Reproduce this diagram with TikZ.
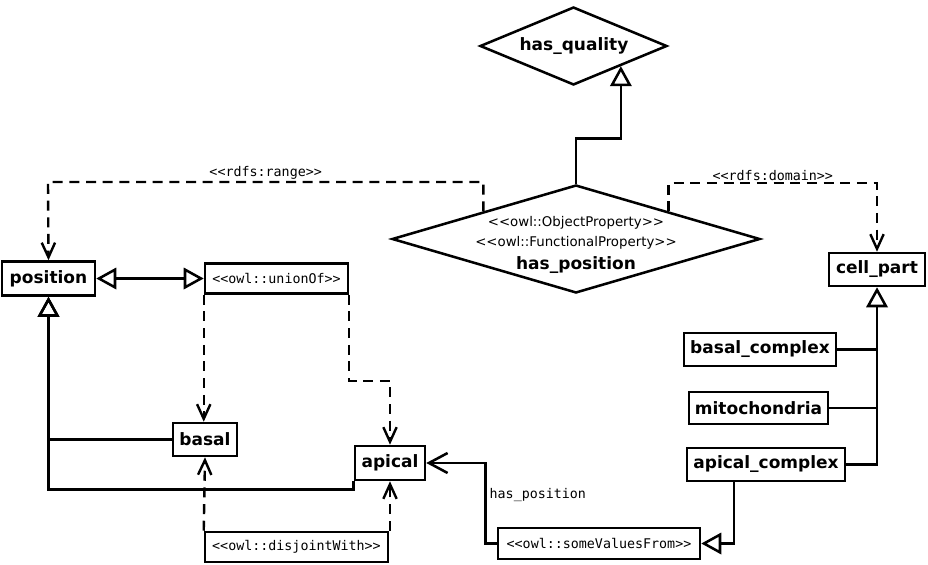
\documentclass[tikz,border=0pt]{standalone}
\usepackage{fontspec}
\setmainfont{DejaVu Sans}[Ligatures=TeXOff]
\setmonofont{DejaVu Sans Mono}
\usetikzlibrary{arrows.meta,shapes.geometric,calc}
\begin{document}
\begin{tikzpicture}[x=0.75pt,y=-0.75pt,
  cls/.style={draw, line width=1.9pt, font=\fontsize{12.75}{15}\selectfont\bfseries, inner sep=0pt},
  stereo/.style={draw, line width=1.9pt, font=\fontsize{10}{12}\selectfont\ttfamily, inner sep=0pt},
  prop/.style={draw, diamond, line width=1.9pt, inner sep=0pt},
  proptxt/.style={font=\fontsize{10}{12}\selectfont, inner sep=0pt},
  propname/.style={font=\fontsize{12.75}{15}\selectfont\bfseries, inner sep=0pt},
  lbl/.style={font=\fontsize{10}{12}\selectfont\ttfamily, inner sep=0pt},
  gen/.style={line width=1.9pt, -{Triangle[open, length=15pt, width=16pt]}},
  gengen/.style={line width=1.9pt, {Triangle[open, length=15pt, width=16pt]}-{Triangle[open, length=15pt, width=16pt]}},
  dep/.style={line width=1.8pt, dash pattern=on 7.5pt off 5pt, -{Straight Barb[length=11pt, width=10pt]}},
  assoc/.style={line width=1.9pt, -{Straight Barb[length=14pt, width=15pt]}}
]
\useasboundingbox (0,0) rectangle (928,564);

% property diamonds
\node[prop, minimum width=140.25pt, minimum height=58.5pt] (hq) at (573.5,46) {};
\node[propname] (hqt) at (574,46) {has\_quality};
\node[prop, minimum width=276pt, minimum height=81pt] (hp) at (576,239) {};
\node[proptxt] (hp1) at (576,223) {<<owl::ObjectProperty>>};
\node[proptxt] (hp2) at (576,243) {<<owl::FunctionalProperty>>};
\node[propname] (hp3) at (576,265) {has\_position};

% classes
\node[cls, minimum width=69.75pt, minimum height=25.5pt] (position) at (48.5,278.5) {position};
\node[stereo, minimum width=107.25pt, minimum height=22.5pt] (union) at (276.5,278.5) {<<owl::unionOf>>};
\node[cls, minimum width=48pt, minimum height=24.75pt] (basal) at (205,439.5) {basal};
\node[cls, minimum width=52.5pt, minimum height=25.5pt] (apical) at (390,463) {apical};
\node[stereo, minimum width=137.25pt, minimum height=22.5pt] (disj) at (296.5,547) {<<owl::disjointWith>>};
\node[stereo, minimum width=151.5pt, minimum height=23.25pt] (svf) at (599,543.5) {<<owl::someValuesFrom>>};
\node[cls, minimum width=72pt, minimum height=24.75pt] (cellpart) at (877,269.5) {cell\_part};
\node[cls, minimum width=114pt, minimum height=24.75pt] (bc) at (760,349.5) {basal\_complex};
\node[cls, minimum width=104.25pt, minimum height=24pt] (mito) at (758.5,408) {mitochondria};
\node[cls, minimum width=118.5pt, minimum height=24.75pt] (ac) at (766,464.5) {apical\_complex};

% has_position -> has_quality
\draw[gen] (hp.north) -- ++(0,-45) -| (hq.south east);

% range / domain
\coordinate (rc) at (48,182);
\draw[dep] (hp.north west) |- node[lbl, above, pos=0.75, yshift=1pt] {<<rdfs:range>>} (rc) -- (position.north);
\coordinate (dc) at (877,183);
\draw[dep] (hp.north east) |- node[lbl, above, pos=0.75, yshift=1pt] {<<rdfs:domain>>} (dc) -- (cellpart.north);

% position <-> unionOf
\draw[gengen] (position.east) -- (union.west);

% unionOf members
\draw[dep] (union.south west) -- (union.south west |- basal.north);
\draw[dep] (union.south east) -- ++(0,86) -| (apical.north);

% subclasses of position
\draw[gen] (basal.west) -| (position.south);
\draw[gen] (apical.south west) -- ++(0,8) -| (position.south);

% disjointWith
\draw[dep] (disj.north west) -- (basal.south);
\draw[dep] (apical.south |- disj.north) -- (apical.south);

% subclasses of cell_part
\draw[gen] (ac.east) -| (cellpart.south);
\draw[line width=1.9pt] (bc.east) -- (bc.east -| cellpart.south);
\draw[line width=1.9pt] (mito.east) -- (mito.east -| cellpart.south);

% apical_complex -> someValuesFrom
\draw[gen] ($(ac.south)+(-32,0)$) |- (svf.east);

% has_position restriction
\draw[assoc] (svf.west) -- ++(-11,0) |- node[lbl, right, pos=0.3, xshift=2pt] {has\_position} (apical.east);

\end{tikzpicture}
\end{document}
